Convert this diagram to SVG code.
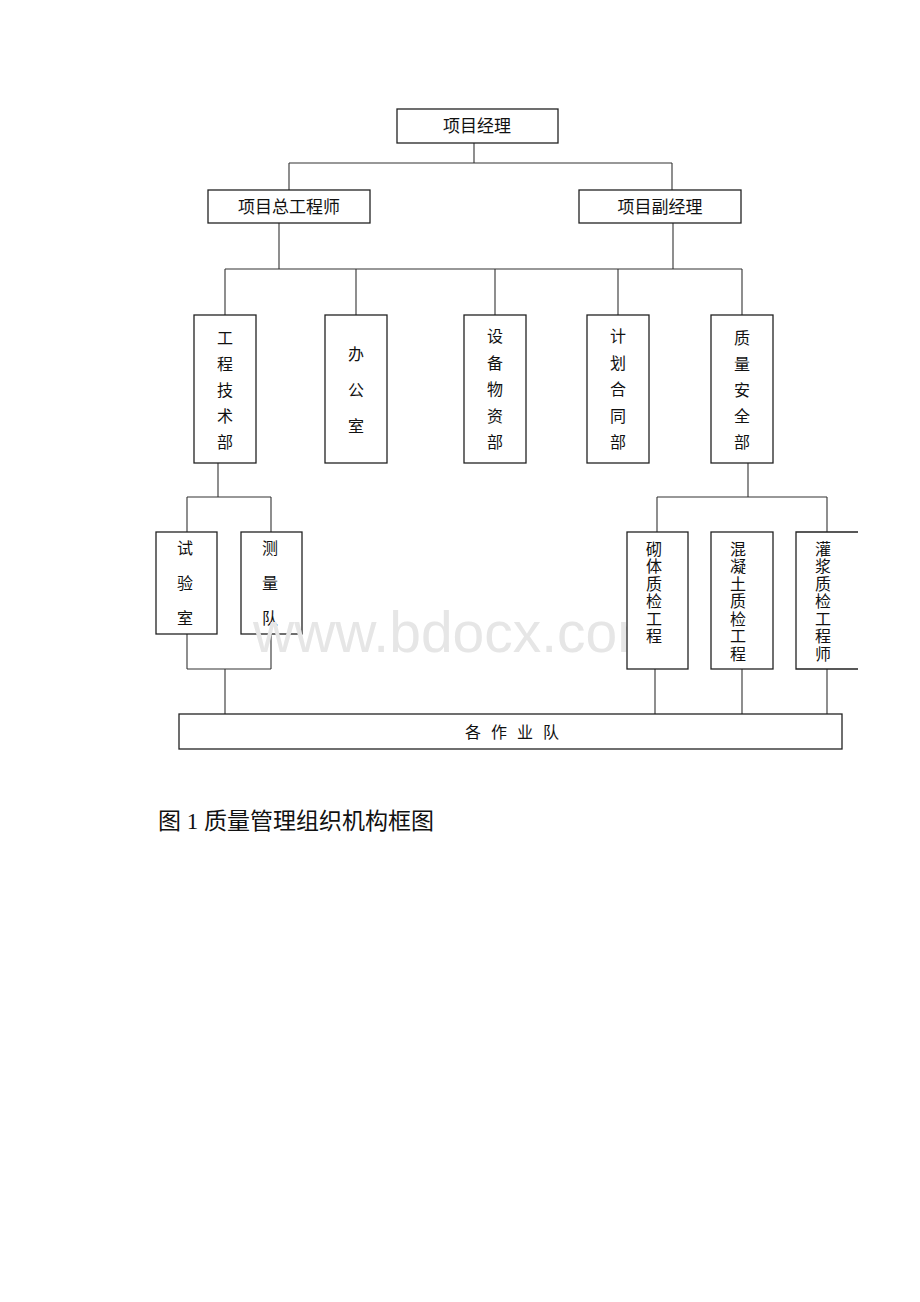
<svg xmlns="http://www.w3.org/2000/svg" width="920" height="1302" viewBox="0 0 920 1302">
<style>
.box{fill:#fff;stroke:#222;stroke-width:1.3}
.open{fill:none;stroke:#222;stroke-width:1.3}
.ln{fill:none;stroke:#333;stroke-width:1.1}
text{font-family:"Liberation Serif","Noto Sans CJK SC",serif;fill:#111}
.h{font-size:17px;text-anchor:middle;dominant-baseline:central}
.v{font-size:16px;text-anchor:middle;dominant-baseline:central}
.vs{font-size:16px;text-anchor:middle;dominant-baseline:central}
.wm{font-family:"Liberation Sans",Arial,sans-serif;font-size:57px;fill:#e6e6e6}
.cap{font-size:23px}
</style>
<rect width="920" height="1302" fill="#fff"/>
<g id="connectors">
<path class="ln" d="M474,143V163M289,163H672M289,163V190M672,163V190"/>
<path class="ln" d="M279,223V269M673,223V269M225,269H742"/>
<path class="ln" d="M225,269V315M356,269V315M495,269V315M618,269V315M742,269V315"/>
<path class="ln" d="M218,463V497M187,497H271M187,497V532M271,497V532"/>
<path class="ln" d="M187,634V669M271,634V669M187,669H271M225,669V714"/>
<path class="ln" d="M748,463V497M657,497H827M657,497V532M827,497V532"/>
<path class="ln" d="M655,669V714M742,669V714M827,669V714"/>
</g>
<g id="n-pm"><rect class="box" x="397" y="109" width="161" height="34"/><text class="h" x="477" y="126">项目经理</text></g>
<g id="n-chief"><rect class="box" x="208" y="190" width="162" height="33"/><text class="h" x="289" y="207">项目总工程师</text></g>
<g id="n-dpm"><rect class="box" x="579" y="190" width="162" height="33"/><text class="h" x="660" y="207">项目副经理</text></g>
<g id="n-tech"><rect class="box" x="194" y="315" width="62" height="148"/>
<text class="v" x="225" y="338">工</text><text class="v" x="225" y="364">程</text><text class="v" x="225" y="390">技</text><text class="v" x="225" y="416">术</text><text class="v" x="225" y="442">部</text></g>
<g id="n-office"><rect class="box" x="325" y="315" width="62" height="148"/>
<text class="v" x="356" y="354">办</text><text class="v" x="356" y="390">公</text><text class="v" x="356" y="426">室</text></g>
<g id="n-equip"><rect class="box" x="464" y="315" width="62" height="148"/>
<text class="v" x="495" y="336">设</text><text class="v" x="495" y="363">备</text><text class="v" x="495" y="389">物</text><text class="v" x="495" y="416">资</text><text class="v" x="495" y="442">部</text></g>
<g id="n-plan"><rect class="box" x="587" y="315" width="62" height="148"/>
<text class="v" x="618" y="336">计</text><text class="v" x="618" y="363">划</text><text class="v" x="618" y="389">合</text><text class="v" x="618" y="416">同</text><text class="v" x="618" y="442">部</text></g>
<g id="n-qs"><rect class="box" x="711" y="315" width="62" height="148"/>
<text class="v" x="742" y="338">质</text><text class="v" x="742" y="364">量</text><text class="v" x="742" y="390">安</text><text class="v" x="742" y="416">全</text><text class="v" x="742" y="442">部</text></g>
<g id="n-lab"><rect class="box" x="156" y="532" width="61" height="102"/>
<text class="v" x="185" y="548">试</text><text class="v" x="185" y="583">验</text><text class="v" x="185" y="618">室</text></g>
<g id="n-survey"><rect class="box" x="241" y="532" width="61" height="102"/>
<text class="v" x="270" y="548">测</text><text class="v" x="270" y="583">量</text><text class="v" x="270" y="618">队</text></g>
<text class="wm" x="253" y="652">www.bdocx.com</text>
<g id="n-masonry"><rect class="box" x="627" y="532" width="61" height="137"/>
<text class="vs" x="654" y="549">砌</text><text class="vs" x="654" y="566.5">体</text><text class="vs" x="654" y="584">质</text><text class="vs" x="654" y="601.5">检</text><text class="vs" x="654" y="619">工</text><text class="vs" x="654" y="636.5">程</text></g>
<g id="n-concrete"><rect class="box" x="711" y="532" width="62" height="137"/>
<text class="vs" x="738" y="549">混</text><text class="vs" x="738" y="566.5">凝</text><text class="vs" x="738" y="584">土</text><text class="vs" x="738" y="601.5">质</text><text class="vs" x="738" y="619">检</text><text class="vs" x="738" y="636.5">工</text><text class="vs" x="738" y="654">程</text></g>
<g id="n-grout"><path class="open" d="M858,532H796V669H858"/>
<text class="vs" x="823" y="549">灌</text><text class="vs" x="823" y="566.5">浆</text><text class="vs" x="823" y="584">质</text><text class="vs" x="823" y="601.5">检</text><text class="vs" x="823" y="619">工</text><text class="vs" x="823" y="636.5">程</text><text class="vs" x="823" y="654">师</text></g>
<g id="n-teams"><rect class="box" x="179" y="714" width="663" height="35"/>
<text class="v" x="473" y="732">各</text><text class="v" x="499" y="732">作</text><text class="v" x="525" y="732">业</text><text class="v" x="551" y="732">队</text></g>
<text class="cap" x="158" y="829">图 1 质量管理组织机构框图</text>
</svg>
